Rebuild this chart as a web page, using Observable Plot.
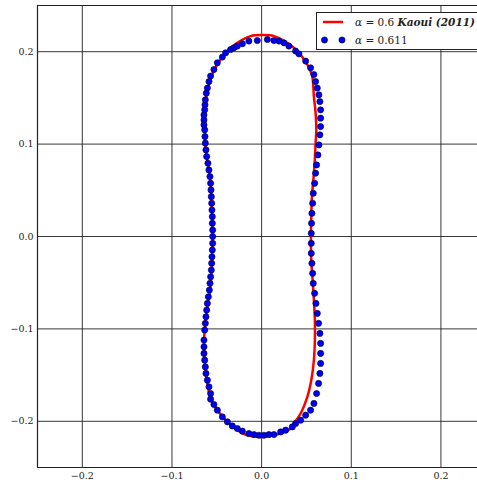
<!DOCTYPE html>
<html><head><meta charset="utf-8">
<script src="https://cdn.jsdelivr.net/npm/d3@7"></script>
<script src="https://cdn.jsdelivr.net/npm/@observablehq/plot@0.6"></script>
<style>body{margin:0;background:#fff;} #chart{position:relative;}</style>
</head><body><div id="chart"></div>
<script>
const xTicks = [-0.2, -0.1, 0.0, 0.1, 0.2];
const yTicks = [-0.2, -0.1, 0.0, 0.1, 0.2];
const seriesLabels = ["Kaoui (2011)", "0.611"];

// red contour: alpha = 0.6 (Kaoui 2011)
const redX = [0.0,0.0137,0.0287,0.0398,0.0510,0.0563,0.0583,0.0602,0.0610,0.0602,0.0591,0.0577,0.0561,0.0554,0.0550,0.0554,0.0569,0.0583,0.0594,0.0594,0.0583,0.0554,0.0510,0.0435,0.0360,0.0323,0.0175,0.0,-0.0159,-0.0271,-0.0382,-0.0494,-0.0569,-0.0621,-0.0635,-0.0643,-0.0635,-0.0624,-0.0605,-0.0580,-0.0561,-0.0554,-0.0546,-0.0554,-0.0561,-0.0569,-0.0588,-0.0613,-0.0628,-0.0635,-0.0643,-0.0635,-0.0628,-0.0605,-0.0569,-0.0532,-0.0476,-0.0401,-0.0271,-0.0123];
const redY = [0.2180,0.2169,0.2096,0.2007,0.1861,0.1739,0.1515,0.1335,0.1154,0.1010,0.0793,0.0612,0.0431,0.0215,0.0,-0.0255,-0.0471,-0.0688,-0.0905,-0.1122,-0.1338,-0.1555,-0.1736,-0.1916,-0.2024,-0.2078,-0.2143,-0.2169,-0.2151,-0.2096,-0.2006,-0.1880,-0.1753,-0.1482,-0.1338,-0.1157,-0.1013,-0.0905,-0.0761,-0.0615,-0.0436,-0.0255,0.0,0.0287,0.0431,0.0576,0.0720,0.0865,0.1010,0.1154,0.1262,0.1371,0.1460,0.1569,0.1714,0.1796,0.1894,0.1988,0.2096,0.2169];

// blue dots: alpha = 0.611
const dotX = [-0.0569,-0.0532,-0.0494,-0.0438,-0.0401,-0.0346,-0.0309,-0.0271,-0.0215,-0.0142,-0.0048,0.0064,0.0137,0.0193,0.0249,0.0304,0.0379,0.0416,0.0491,0.0546,0.0583,
0.0602,0.0621,0.0639,0.0650,0.0658,0.0658,0.0658,0.0650,0.0639,0.0628,0.0613,0.0602,0.0591,0.0576,0.0569,0.0561,0.0557,0.0554,
0.0554,0.0554,0.0561,0.0569,0.0576,0.0591,0.0606,0.0621,0.0635,0.0650,0.0658,0.0658,0.0658,0.0650,0.0635,0.0613,0.0583,0.0546,0.0491,0.0435,0.0379,0.0342,
0.0268,0.0212,0.0137,0.0081,0.0026,-0.0030,-0.0086,-0.0142,-0.0215,-0.0271,-0.0327,-0.0382,-0.0438,-0.0494,-0.0532,-0.0569,
-0.0569,-0.0587,-0.0605,-0.0621,-0.0628,-0.0635,-0.0643,-0.0643,-0.0643,-0.0635,-0.0628,-0.0621,-0.0613,-0.0605,-0.0594,-0.0583,-0.0576,-0.0569,-0.0561,-0.0557,-0.0554,-0.0550,-0.0546,
-0.0546,-0.0546,-0.0550,-0.0550,-0.0554,-0.0557,-0.0561,-0.0565,-0.0569,-0.0576,-0.0588,-0.0599,-0.0613,-0.0621,-0.0628,-0.0632,-0.0635,-0.0643,-0.0643,-0.0643,-0.0635,-0.0632,-0.0628,-0.0617,-0.0605,-0.0587];
const dotY = [0.1736,0.1807,0.1880,0.1942,0.1988,0.2024,0.2042,0.2061,0.2086,0.2115,0.2121,0.2132,0.2121,0.2115,0.2096,0.2061,0.2007,0.1977,0.1898,0.1826,0.1753,
0.1677,0.1606,0.1533,0.1460,0.1371,0.1281,0.1190,0.1100,0.0991,0.0883,0.0775,0.0685,0.0576,0.0468,0.0360,0.0251,0.0143,0.0035,
-0.0074,-0.0182,-0.0290,-0.0399,-0.0507,-0.0615,-0.0724,-0.0832,-0.0940,-0.1049,-0.1157,-0.1265,-0.1374,-0.1482,-0.1590,-0.1699,-0.1807,-0.1880,-0.1934,-0.1988,-0.2024,-0.2061,
-0.2096,-0.2115,-0.2143,-0.2143,-0.2151,-0.2151,-0.2143,-0.2132,-0.2107,-0.2078,-0.2050,-0.2006,-0.1952,-0.1880,-0.1818,-0.1761,
-0.1699,-0.1627,-0.1555,-0.1482,-0.1411,-0.1338,-0.1265,-0.1194,-0.1121,-0.1013,-0.0940,-0.0869,-0.0796,-0.0724,-0.0652,-0.0580,-0.0507,-0.0436,-0.0363,-0.0290,-0.0219,-0.0146,-0.0074,
0.0,0.0070,0.0143,0.0215,0.0287,0.0360,0.0431,0.0504,0.0576,0.0648,0.0720,0.0793,0.0865,0.0937,0.1010,0.1081,0.1154,0.1208,0.1262,0.1316,0.1371,0.1425,0.1479,0.1551,0.1606,0.1677];

const red = redX.map((x, i) => ({x, y: redY[i]}));
const dots = dotX.map((x, i) => ({x, y: dotY[i]}));
const fmt = d3.format(".1f");
const serif = "DejaVu Serif";

const plot = Plot.plot({
  width: 477,
  height: 482,
  marginLeft: 37,
  marginRight: 0,
  marginTop: 5,
  marginBottom: 15,
  style: {fontFamily: serif, fontSize: "10px", background: "white", color: "black"},
  x: {domain: [-0.25, 0.2408], ticks: xTicks, tickFormat: fmt},
  y: {domain: [-0.25, 0.25], ticks: yTicks, tickFormat: fmt},
  marks: [
    Plot.gridX(xTicks, {stroke: "#222", strokeOpacity: 0.9, strokeWidth: 1}),
    Plot.gridY(yTicks, {stroke: "#222", strokeOpacity: 0.9, strokeWidth: 1}),
    Plot.ruleX([-0.25], {stroke: "#222", strokeWidth: 1.2}),
    Plot.ruleY([-0.25, 0.25], {stroke: "#222", strokeWidth: 1.2}),
    Plot.axisX(xTicks, {tickSize: 0, tickPadding: 5, tickFormat: fmt, label: null, fill: "#222", fontFamily: serif, fontSize: 9.5}),
    Plot.axisY(yTicks, {tickSize: 0, tickPadding: 4, tickFormat: fmt, label: null, fill: "#222", fontFamily: serif, fontSize: 9.5}),
    Plot.line(red, {x: "x", y: "y", stroke: "red", strokeWidth: 2.5, curve: "catmull-rom-closed"}),
    Plot.dot(dots, {x: "x", y: "y", r: 3.1, fill: "#0000ee", stroke: "#000033", strokeWidth: 0.6})
  ]
});
document.getElementById("chart").appendChild(plot);

// legend
const svg = d3.select(plot);
const g = svg.append("g").attr("font-family", serif).attr("font-size", 10.5)
  .attr("text-anchor", "start");
g.append("rect").attr("x", 316.5).attr("y", 12.5).attr("width", 170).attr("height", 37)
  .attr("fill", "white").attr("stroke", "#222").attr("stroke-width", 1);
g.append("line").attr("x1", 323).attr("x2", 343).attr("y1", 22).attr("y2", 22)
  .attr("stroke", "red").attr("stroke-width", 2.5);
[324.5, 342].forEach(cx => g.append("circle").attr("cx", cx).attr("cy", 40).attr("r", 3.1)
  .attr("fill", "#0000ee").attr("stroke", "#000033").attr("stroke-width", 0.6));
const t1 = g.append("text").attr("x", 355).attr("y", 26).attr("text-anchor", "start").attr("fill", "#222");
t1.append("tspan").attr("font-style", "italic").text("α");
t1.append("tspan").text(" = 0.6 ");
t1.append("tspan").attr("font-style", "italic").attr("font-weight", "bold").text(seriesLabels[0]);
const t2 = g.append("text").attr("x", 355).attr("y", 44).attr("text-anchor", "start").attr("fill", "#222");
t2.append("tspan").attr("font-style", "italic").text("α");
t2.append("tspan").text(" = " + seriesLabels[1]);
</script>
</body></html>
